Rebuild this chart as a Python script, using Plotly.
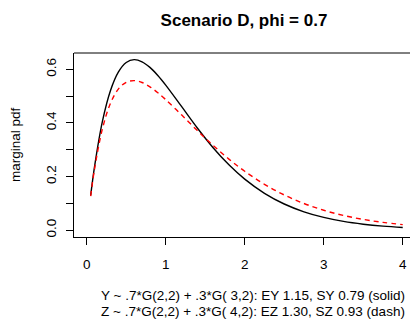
import plotly.graph_objects as go

x_vals = [0.05, 0.1, 0.2, 0.3, 0.4, 0.5, 0.6, 0.7, 0.8, 0.9, 1.0, 1.2, 1.4, 1.6, 1.8,
          2.0, 2.25, 2.5, 2.75, 3.0, 3.25, 3.5, 3.75, 4.0]
y_pdf = [0.1294, 0.2391, 0.4076, 0.5203, 0.5895, 0.6254, 0.6361, 0.6283, 0.6073, 0.5772,
         0.5413, 0.4616, 0.3814, 0.3078, 0.2439, 0.1905, 0.1375, 0.0977, 0.0686, 0.0476,
         0.0327, 0.0223, 0.0151, 0.0102]
z_pdf = [0.1268, 0.2299, 0.3797, 0.4729, 0.5263, 0.5518, 0.5581, 0.5510, 0.5349, 0.5130,
         0.4872, 0.4302, 0.3719, 0.3162, 0.2652, 0.2198, 0.1712, 0.1314, 0.0995, 0.0744,
         0.0550, 0.0402, 0.0291, 0.0209]

x_ticks = [0, 1, 2, 3, 4]
y_ticks = [0.0, 0.1, 0.2, 0.3, 0.4, 0.5, 0.6]
y_ticktext = ["0.0", "", "0.2", "", "0.4", "", "0.6"]

title_text = "<b>Scenario D, phi = 0.7</b>"
xlab_lines = ["Y ~ .7*G(2,2) + .3*G( 3,2): EY 1.15, SY 0.79 (solid)",
              "Z ~ .7*G(2,2) + .3*G( 4,2): EZ 1.30, SZ 0.93 (dash)"]
ylab = "marginal pdf"

FONT = "Liberation Sans, Arial, Helvetica, sans-serif"
FS = 13.5

fig = go.Figure()
fig.add_trace(go.Scatter(x=x_vals, y=y_pdf, mode="lines", line=dict(color="black", width=1.4, shape="spline"),
                         showlegend=False, hoverinfo="skip"))
fig.add_trace(go.Scatter(x=x_vals, y=z_pdf, mode="lines",
                         line=dict(color="#FF0000", width=1.4, dash="5px,4px", shape="spline"),
                         showlegend=False, hoverinfo="skip"))

L, R, T, B = 74, 0, 53, 88
W, H = 410, 325
fig.update_layout(
    width=W, height=H,
    margin=dict(l=L, r=R, t=T, b=B, pad=0),
    paper_bgcolor="white", plot_bgcolor="white",
    font=dict(family=FONT, size=FS, color="black"),
    title=dict(text=title_text, x=(244 - L) / (W - L - R), xref="paper", xanchor="center",
               y=1 - 20 / H, yanchor="middle", yref="container",
               font=dict(size=17, family=FONT, color="black")),
    xaxis=dict(range=[-0.161, 4.092], tickvals=x_ticks, ticktext=[str(v) for v in x_ticks],
               showgrid=False, zeroline=False, showline=True, linecolor="black", linewidth=1,
               mirror=False, ticks="outside", ticklen=7, tickwidth=1, tickcolor="black",
               ticklabelstandoff=8, tickfont=dict(size=FS)),
    yaxis=dict(range=[-0.0254, 0.661], tickvals=y_ticks, ticktext=y_ticktext,
               showgrid=False, zeroline=False, showline=True, linecolor="black", linewidth=1,
               mirror=False, ticks="outside", ticklen=7, tickwidth=1, tickcolor="black",
               tickangle=-90, ticklabelstandoff=5, tickfont=dict(size=FS)),
    shapes=[dict(type="line", xref="paper", yref="paper", x0=0, x1=1, y0=1, y1=1,
                 line=dict(color="black", width=1))],
)

fig.add_annotation(text=ylab, textangle=-90, xref="paper", yref="paper",
                   x=-(L - 15) / (W - L - R), y=0.5, xanchor="center", yanchor="middle",
                   showarrow=False, font=dict(size=FS))
for i, line in enumerate(xlab_lines):
    yc = [295, 311.5][i]
    fig.add_annotation(text=line, xref="paper", yref="paper",
                       x=(252.5 - L) / (W - L - R), y=-(yc - (H - B)) / (H - T - B),
                       xanchor="center", yanchor="middle", showarrow=False, font=dict(size=FS))

fig.write_html("out.html")
